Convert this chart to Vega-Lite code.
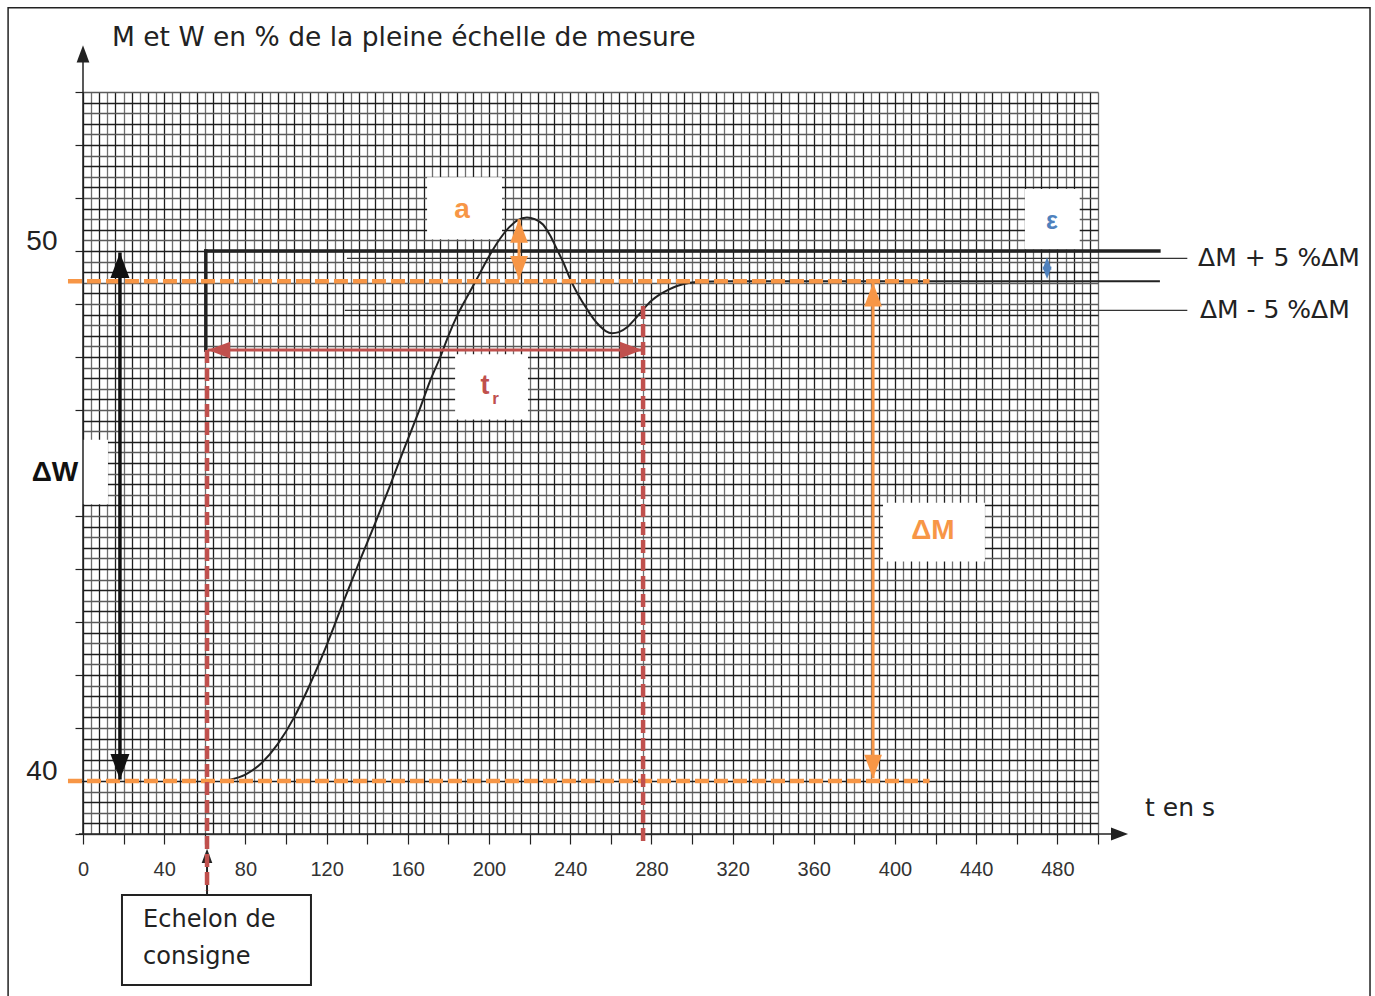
{
  "$schema": "https://vega.github.io/schema/vega-lite/v6.json",
  "width": 1015,
  "height": 742,
  "autosize": "none",
  "padding": {"left": 83, "top": 92, "right": 277, "bottom": 162},
  "background": "white",
  "config": {"view": {"stroke": null}, "font": "Liberation Sans", "text": {"font": "Liberation Sans"}},
  "encoding": {
    "x": {
      "field": "t", "type": "quantitative",
      "scale": {"domain": [0, 500], "nice": false, "zero": false},
      "axis": {
        "title": null, "grid": true, "domain": false,
        "values": [0,4,8,12,16,20,24,28,32,36,40,44,48,52,56,60,64,68,72,76,80,84,88,92,96,100,104,108,112,116,120,124,128,132,136,140,144,148,152,156,160,164,168,172,176,180,184,188,192,196,200,204,208,212,216,220,224,228,232,236,240,244,248,252,256,260,264,268,272,276,280,284,288,292,296,300,304,308,312,316,320,324,328,332,336,340,344,348,352,356,360,364,368,372,376,380,384,388,392,396,400,404,408,412,416,420,424,428,432,436,440,444,448,452,456,460,464,468,472,476,480,484,488,492,496,500],
        "gridColor": {"condition": {"test": "datum.value % 8 === 0", "value": "#1e1e1e"}, "value": "#6e6e6e"},
        "gridWidth": 1.3, "gridOpacity": 1,
        "tickColor": {"condition": {"test": "datum.value % 20 === 0", "value": "#222222"}, "value": "transparent"},
        "tickSize": 10, "tickWidth": 1.2,
        "labelExpr": "datum.value % 40 === 0 && datum.value <= 480 ? datum.label : ''",
        "labelFontSize": 20, "labelColor": "#333333", "labelPadding": 15,
        "labelOverlap": false, "labelFlush": false, "labelBound": false, "labelFont": "Liberation Sans"
      }
    },
    "y": {
      "field": "v", "type": "quantitative",
      "scale": {"domain": [39, 53], "nice": false, "zero": false},
      "axis": {
        "title": null, "tickCount": 70, "grid": true, "domain": false,
        "gridColor": {"condition": {"test": "round(datum.value * 10) % 4 === 0", "value": "#1e1e1e"}, "value": "#5a5a5a"},
        "gridWidth": 1.3, "gridOpacity": 1,
        "tickColor": {"condition": {"test": "abs(datum.value - round(datum.value)) < 0.001", "value": "#222222"}, "value": "transparent"},
        "tickSize": 8, "tickWidth": 1.2,
        "labelExpr": "datum.value === 40 ? '40' : (datum.value === 50 ? '50' : '')",
        "labelFontSize": 28, "labelColor": "#222222", "labelPadding": 18, "labelOffset": -10,
        "labelOverlap": false, "labelFlush": false, "labelBound": false, "labelFont": "Liberation Sans"
      }
    }
  },
  "layer": [
    {
      "data": {"values": [
        {"name": "a", "t": 169.5, "t2": 206.4, "v": 51.39, "v2": 50.22},
        {"name": "eps", "t": 464, "t2": 491, "v": 51.17, "v2": 50.03},
        {"name": "tr", "t": 183.3, "t2": 219.2, "v": 48.05, "v2": 46.82},
        {"name": "dW", "t": -36, "t2": 12.3, "v": 46.44, "v2": 45.22},
        {"name": "dM", "t": 394.1, "t2": 444.3, "v": 45.25, "v2": 44.14}
      ]},
      "mark": {"type": "rect", "fill": "white", "stroke": null},
      "encoding": {"x2": {"field": "t2"}, "y2": {"field": "v2"}}
    },
    {
      "data": {"values": [{"t": -36.9, "t2": 634, "v": 54.59, "v2": 35.85}]},
      "mark": {"type": "rect", "fill": null, "stroke": "#222222", "strokeWidth": 1.5},
      "encoding": {"x2": {"field": "t2"}, "y2": {"field": "v2"}}
    },
    {
      "data": {"values": [
        {"axis": "y", "t": 0, "t2": 0, "v": 39, "v2": 53.6},
        {"axis": "x", "t": -2, "t2": 510, "v": 39, "v2": 39}
      ]},
      "mark": {"type": "rule", "color": "#222222", "strokeWidth": 1.5},
      "encoding": {"x2": {"field": "t2"}, "y2": {"field": "v2"}}
    },
    {
      "data": {"values": [
        {"dir": "up", "t": 0, "v": 53.88},
        {"dir": "right", "t": 514.8, "v": 39}
      ]},
      "mark": {"type": "point", "filled": true, "color": "#222222", "opacity": 1, "size": 290, "strokeWidth": 0},
      "encoding": {"shape": {"field": "dir", "type": "nominal", "legend": null,
        "scale": {"domain": ["up", "down", "left", "right"], "range": ["M0,0L-0.75,2L0.75,2Z", "M0,0L-0.75,-2L0.75,-2Z", "M0,0L2,-0.75L2,0.75Z", "M0,0L-2,-0.75L-2,0.75Z"]}}}
    },
    {
      "data": {"values": [
        {"line": "M+5%", "t": 130, "t2": 544, "v": 49.86, "v2": 49.86},
        {"line": "M-5%", "t": 129, "t2": 544, "v": 48.88, "v2": 48.88}
      ]},
      "mark": {"type": "rule", "color": "#333333", "strokeWidth": 1.3},
      "encoding": {"x2": {"field": "t2"}, "y2": {"field": "v2"}}
    },
    {
      "data": {"values": [
        {"t": 72, "v": 40.02}, {"t": 80, "v": 40.12}, {"t": 88, "v": 40.34}, {"t": 96, "v": 40.7},
        {"t": 104, "v": 41.2}, {"t": 112, "v": 41.84}, {"t": 120, "v": 42.56},
        {"t": 129, "v": 43.45}, {"t": 136.5, "v": 44.17},
        {"t": 144, "v": 44.87}, {"t": 151.2, "v": 45.57}, {"t": 158.5, "v": 46.3}, {"t": 166, "v": 47.03},
        {"t": 171, "v": 47.55}, {"t": 176, "v": 48.0}, {"t": 180, "v": 48.4}, {"t": 184.2, "v": 48.77},
        {"t": 189, "v": 49.12}, {"t": 194, "v": 49.47}, {"t": 199, "v": 49.83}, {"t": 204, "v": 50.15},
        {"t": 210, "v": 50.45}, {"t": 214, "v": 50.58}, {"t": 218.7, "v": 50.63}, {"t": 222.5, "v": 50.6},
        {"t": 226.6, "v": 50.5}, {"t": 230, "v": 50.3}, {"t": 233.5, "v": 50.03}, {"t": 237, "v": 49.75},
        {"t": 240, "v": 49.47}, {"t": 244, "v": 49.17}, {"t": 248.3, "v": 48.9}, {"t": 251.5, "v": 48.72},
        {"t": 254.7, "v": 48.58}, {"t": 257.5, "v": 48.49}, {"t": 260.6, "v": 48.45}, {"t": 264, "v": 48.47},
        {"t": 268, "v": 48.56}, {"t": 272, "v": 48.72}, {"t": 276, "v": 48.9}, {"t": 280, "v": 49.06},
        {"t": 284.2, "v": 49.18}, {"t": 288.5, "v": 49.27}, {"t": 292.6, "v": 49.34}, {"t": 299, "v": 49.4},
        {"t": 305, "v": 49.42}, {"t": 314, "v": 49.43}, {"t": 530.5, "v": 49.43}
      ]},
      "mark": {"type": "line", "color": "#222222", "strokeWidth": 2, "interpolate": "monotone"}
    },
    {
      "data": {"values": [
        {"seg": "rise", "t": 60.5, "t2": 60.5, "v": 48.13, "v2": 50},
        {"seg": "hold", "t": 60.5, "t2": 530, "v": 50, "v2": 50}
      ]},
      "mark": {"type": "rule", "color": "#222222", "strokeWidth": 3.5, "strokeCap": "square"},
      "encoding": {"x2": {"field": "t2"}, "y2": {"field": "v2"}}
    },
    {
      "data": {"values": [
        {"level": "final", "t": -7.4, "t2": 417, "v": 49.43, "v2": 49.43},
        {"level": "initial", "t": -7.4, "t2": 417, "v": 40.0, "v2": 40.0}
      ]},
      "mark": {"type": "rule", "color": "#f79646", "strokeWidth": 4.5, "strokeDash": [14, 5]},
      "encoding": {"x2": {"field": "t2"}, "y2": {"field": "v2"}}
    },
    {
      "data": {"values": [{"t": 61.1, "t2": 61.1, "v": 37.85, "v2": 38.6}]},
      "mark": {"type": "rule", "color": "#222222", "strokeWidth": 2},
      "encoding": {"x2": {"field": "t2"}, "y2": {"field": "v2"}}
    },
    {
      "data": {"values": [{"dir": "up", "t": 61.1, "v": 38.72}]},
      "mark": {"type": "point", "filled": true, "color": "#222222", "opacity": 1, "size": 200, "strokeWidth": 0},
      "encoding": {"shape": {"field": "dir", "type": "nominal", "legend": null,
        "scale": {"domain": ["up"], "range": ["M0,0L-0.9,1.7L0.9,1.7Z"]}}}
    },
    {
      "data": {"values": [
        {"line": "start", "t": 61.1, "t2": 61.1, "v": 48.13, "v2": 37.94},
        {"line": "settled", "t": 275.9, "t2": 275.9, "v": 48.96, "v2": 38.79}
      ]},
      "mark": {"type": "rule", "color": "#c0504d", "strokeWidth": 4.5, "strokeDash": [13, 5]},
      "encoding": {"x2": {"field": "t2"}, "y2": {"field": "v2"}}
    },
    {
      "data": {"values": [{"t": 61.5, "t2": 275.5, "v": 48.13, "v2": 48.13}]},
      "mark": {"type": "rule", "color": "#c0504d", "strokeWidth": 3},
      "encoding": {"x2": {"field": "t2"}, "y2": {"field": "v2"}}
    },
    {
      "data": {"values": [
        {"dir": "left", "t": 61.5, "v": 48.13},
        {"dir": "right", "t": 275.5, "v": 48.13}
      ]},
      "mark": {"type": "point", "filled": true, "color": "#c0504d", "opacity": 1, "size": 500, "strokeWidth": 0},
      "encoding": {"shape": {"field": "dir", "type": "nominal", "legend": null,
        "scale": {"domain": ["left", "right"], "range": [
          "M0,0L2,1L2.089,0.821L0.447,0L2.089,-0.821L2,-1Z",
          "M0,0L-2,1L-2.089,0.821L-0.447,0L-2.089,-0.821L-2,-1Z"]}}}
    },
    {
      "data": {"values": [{"t": 18.2, "t2": 18.2, "v": 49.97, "v2": 40.03}]},
      "mark": {"type": "rule", "color": "#111111", "strokeWidth": 3.5},
      "encoding": {"x2": {"field": "t2"}, "y2": {"field": "v2"}}
    },
    {
      "data": {"values": [
        {"dir": "up", "t": 18.2, "v": 49.97},
        {"dir": "down", "t": 18.2, "v": 40.03}
      ]},
      "mark": {"type": "point", "filled": true, "color": "#111111", "opacity": 1, "size": 640, "strokeWidth": 0},
      "encoding": {"shape": {"field": "dir", "type": "nominal", "legend": null,
        "scale": {"domain": ["up", "down"], "range": [
          "M0,0L1,1.7L0.78,1.83L0,0.5L-0.78,1.83L-1,1.7Z",
          "M0,0L1,-1.7L0.78,-1.83L0,-0.5L-0.78,-1.83L-1,-1.7Z"]}}}
    },
    {
      "data": {"values": [
        {"arrow": "dM", "t": 389.2, "t2": 389.2, "v": 49.4, "v2": 40.05},
        {"arrow": "a", "t": 214.8, "t2": 214.8, "v": 50.6, "v2": 49.46}
      ]},
      "mark": {"type": "rule", "color": "#f79646", "strokeWidth": 3},
      "encoding": {"x2": {"field": "t2"}, "y2": {"field": "v2"}}
    },
    {
      "data": {"values": [
        {"dir": "up", "t": 389.2, "v": 49.4},
        {"dir": "down", "t": 389.2, "v": 40.05},
        {"dir": "up", "t": 214.8, "v": 50.6},
        {"dir": "down", "t": 214.8, "v": 49.46}
      ]},
      "mark": {"type": "point", "filled": true, "color": "#f79646", "opacity": 1, "size": 560, "strokeWidth": 0},
      "encoding": {"shape": {"field": "dir", "type": "nominal", "legend": null,
        "scale": {"domain": ["up", "down"], "range": [
          "M0,0L1,1.6L0.81,1.72L0,0.43L-0.81,1.72L-1,1.6Z",
          "M0,0L1,-1.6L0.81,-1.72L0,-0.43L-0.81,-1.72L-1,-1.6Z"]}}}
    },
    {
      "data": {"values": [{"t": 474.9, "t2": 474.9, "v": 49.8, "v2": 49.54}]},
      "mark": {"type": "rule", "color": "#4f81bd", "strokeWidth": 2.5},
      "encoding": {"x2": {"field": "t2"}, "y2": {"field": "v2"}}
    },
    {
      "data": {"values": [
        {"dir": "up", "t": 474.9, "v": 49.88},
        {"dir": "down", "t": 474.9, "v": 49.47}
      ]},
      "mark": {"type": "point", "filled": true, "color": "#4f81bd", "opacity": 1, "size": 150, "strokeWidth": 0},
      "encoding": {"shape": {"field": "dir", "type": "nominal", "legend": null,
        "scale": {"domain": ["up", "down"], "range": ["M0,0L-0.9,1.6L0.9,1.6Z", "M0,0L-0.9,-1.6L0.9,-1.6Z"]}}}
    },
    {
      "data": {"values": [{"t": 19.2, "t2": 112.3, "v": 37.85, "v2": 36.15}]},
      "mark": {"type": "rect", "fill": "white", "stroke": "#222222", "strokeWidth": 2},
      "encoding": {"x2": {"field": "t2"}, "y2": {"field": "v2"}}
    },
    {
      "data": {"values": [{"label": "M et W en % de la pleine échelle de mesure", "t": 14.3, "v": 54.02}]},
      "mark": {"type": "text", "align": "left", "baseline": "middle", "fontSize": 26.5, "font": "DejaVu Sans", "color": "#222222"},
      "encoding": {"text": {"field": "label"}}
    },
    {
      "data": {"values": [{"label": "t en s", "t": 523.2, "v": 39.49}]},
      "mark": {"type": "text", "align": "left", "baseline": "middle", "fontSize": 25, "font": "DejaVu Sans", "color": "#222222"},
      "encoding": {"text": {"field": "label"}}
    },
    {
      "data": {"values": [
        {"label": "ΔM + 5 %ΔM", "t": 549.3, "v": 49.86},
        {"label": "ΔM - 5 %ΔM", "t": 550.2, "v": 48.88}
      ]},
      "mark": {"type": "text", "align": "left", "baseline": "middle", "fontSize": 25, "font": "DejaVu Sans", "color": "#222222"},
      "encoding": {"text": {"field": "label"}}
    },
    {
      "data": {"values": [
        {"label": "Echelon de", "t": 29.6, "v": 37.38},
        {"label": "consigne", "t": 29.6, "v": 36.68}
      ]},
      "mark": {"type": "text", "align": "left", "baseline": "middle", "fontSize": 24, "font": "DejaVu Sans", "color": "#222222"},
      "encoding": {"text": {"field": "label"}}
    },
    {
      "data": {"values": [{"label": "ΔW", "t": -13.8, "v": 45.82}]},
      "mark": {"type": "text", "align": "center", "baseline": "middle", "fontSize": 28, "fontWeight": "bold", "color": "#111111"},
      "encoding": {"text": {"field": "label"}}
    },
    {
      "data": {"values": [
        {"label": "ΔM", "t": 418.7, "v": 44.71},
        {"label": "a", "t": 186.7, "v": 50.77}
      ]},
      "mark": {"type": "text", "align": "center", "baseline": "middle", "fontSize": 28, "fontWeight": "bold", "color": "#f79646"},
      "encoding": {"text": {"field": "label"}}
    },
    {
      "data": {"values": [{"label": "ε", "t": 477.3, "v": 50.56}]},
      "mark": {"type": "text", "align": "center", "baseline": "middle", "fontSize": 25, "fontWeight": "bold", "color": "#4f81bd"},
      "encoding": {"text": {"field": "label"}}
    },
    {
      "data": {"values": [{"label": "t", "t": 198.0, "v": 47.45}]},
      "mark": {"type": "text", "align": "center", "baseline": "middle", "fontSize": 27, "fontWeight": "bold", "color": "#c0504d"},
      "encoding": {"text": {"field": "label"}}
    },
    {
      "data": {"values": [{"label": "r", "t": 203.2, "v": 47.2}]},
      "mark": {"type": "text", "align": "center", "baseline": "middle", "fontSize": 17, "fontWeight": "bold", "color": "#c0504d"},
      "encoding": {"text": {"field": "label"}}
    }
  ]
}
